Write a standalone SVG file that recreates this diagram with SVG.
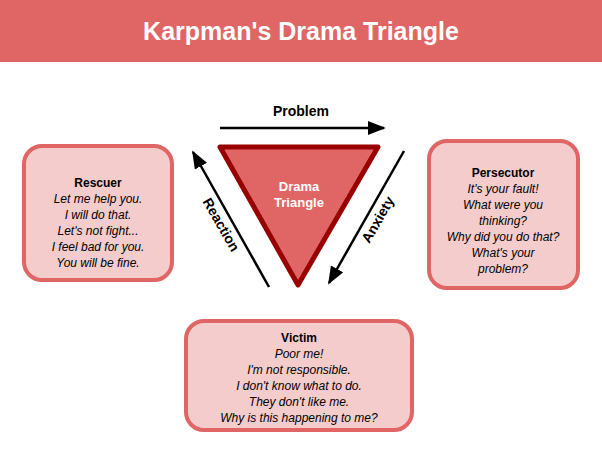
<svg xmlns="http://www.w3.org/2000/svg" width="602" height="455" viewBox="0 0 602 455">
<style>
.box{fill:#f4cccc;stroke:#e06666;stroke-width:4}
.t{font-family:"Liberation Sans",Arial,sans-serif;font-size:12px;text-anchor:middle;fill:#000}
.b{font-weight:bold}
.i{font-style:italic}
.arr{stroke:#000;stroke-width:2.5;fill:none;marker-end:url(#ah)}
.lbl{font-family:"Liberation Sans",Arial,sans-serif;font-size:14px;font-weight:bold;text-anchor:middle}
</style>
<defs><marker id="ah" markerWidth="8" markerHeight="8" refX="6" refY="4" orient="auto" markerUnits="userSpaceOnUse" viewBox="0 0 8 8"><path d="M0,0 L8,4 L0,8 Z" fill="#000"/></marker>
<marker id="ah2" viewBox="0 0 10 10" refX="9" refY="5" markerWidth="18" markerHeight="14" orient="auto" markerUnits="userSpaceOnUse" preserveAspectRatio="none"><path d="M0,0 L10,5 L0,10 Z" fill="#000"/></marker></defs>
<rect width="602" height="455" fill="#fff"/>
<g id="header"><rect x="0" y="0" width="602" height="62" fill="#e06666"/>
<text x="301" y="40" font-family="Liberation Sans,Arial,sans-serif" font-size="25" font-weight="bold" fill="#fff" text-anchor="middle">Karpman's Drama Triangle</text></g>
<g id="triangle"><polygon points="220,147 378,147 298,285" fill="#e06666" stroke="#990000" stroke-width="5" stroke-linejoin="round"/>
<text class="t b" x="299" y="191" fill="#fff" style="fill:#fff;font-size:13px">Drama</text>
<text class="t b" x="299" y="207" style="fill:#fff;font-size:13px">Triangle</text></g>
<g id="connectors">
<line x1="220" y1="128" x2="384" y2="128" stroke="#000" stroke-width="2.5" marker-end="url(#ah2)"/>
<line x1="404" y1="151" x2="329" y2="283" stroke="#000" stroke-width="2.5" marker-end="url(#ah2)"/>
<line x1="269" y1="287" x2="193" y2="152" stroke="#000" stroke-width="2.5" marker-end="url(#ah2)"/>
<text class="lbl" x="301" y="116">Problem</text>
<text class="lbl" transform="translate(382,222) rotate(-60)">Anxiety</text>
<text class="lbl" transform="translate(217,227) rotate(60)">Reaction</text>
</g>
<g id="rescuer"><rect class="box" x="24" y="146" width="148" height="134" rx="18"/>
<text class="t b" x="98" y="187">Rescuer</text>
<text class="t i" x="98" y="203">Let me help you.</text>
<text class="t i" x="98" y="219">I will do that.</text>
<text class="t i" x="98" y="235">Let's not fight...</text>
<text class="t i" x="98" y="251">I feel bad for you.</text>
<text class="t i" x="98" y="267">You will be fine.</text></g>
<g id="persecutor"><rect class="box" x="429" y="141" width="149" height="147" rx="18"/>
<text class="t b" x="503" y="177">Persecutor</text>
<text class="t i" x="503" y="193">It's your fault!</text>
<text class="t i" x="503" y="209">What were you</text>
<text class="t i" x="503" y="225">thinking?</text>
<text class="t i" x="503" y="241">Why did you do that?</text>
<text class="t i" x="503" y="257">What's your</text>
<text class="t i" x="503" y="273">problem?</text></g>
<g id="victim"><rect class="box" x="186" y="321" width="226" height="109" rx="18"/>
<text class="t b" x="299" y="342">Victim</text>
<text class="t i" x="299" y="358">Poor me!</text>
<text class="t i" x="299" y="374">I'm not responsible.</text>
<text class="t i" x="299" y="390">I don't know what to do.</text>
<text class="t i" x="299" y="406">They don't like me.</text>
<text class="t i" x="299" y="422">Why is this happening to me?</text></g>
</svg>
